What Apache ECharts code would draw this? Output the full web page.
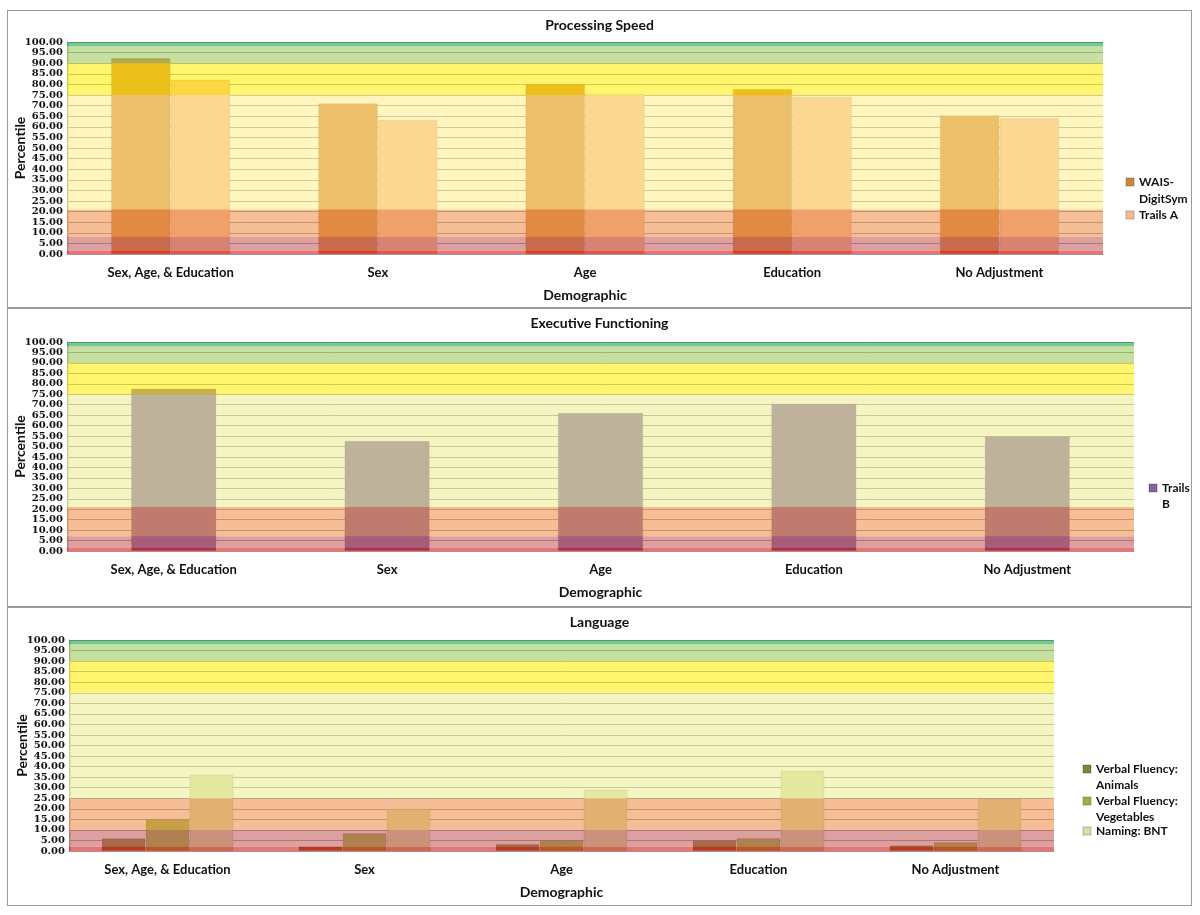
<!DOCTYPE html>
<html>
<head>
<meta charset="utf-8">
<script src="https://cdn.jsdelivr.net/npm/echarts@6/dist/echarts.min.js"></script>
<style>
  html, body { margin: 0; padding: 0; background: #fff; width: 1200px; height: 915px; overflow: hidden; }
  .panel { position: absolute; box-sizing: border-box; border: 1px solid #9a9a9a; background: #fff; }
</style>
</head>
<body>
<div id="p1" class="panel" style="left:7px;top:10px;width:1185px;height:298px;"></div>
<div id="p2" class="panel" style="left:7px;top:308px;width:1185px;height:299px;"></div>
<div id="p3" class="panel" style="left:7px;top:607px;width:1185px;height:299px;"></div>
<script>
// ---- data ----
const categories = ['Sex, Age, & Education', 'Sex', 'Age', 'Education', 'No Adjustment'];

const waisDigitSym = [92.4, 71.1, 80.1, 77.8, 65.5];
const trailsA      = [82.3, 63.3, 75.4, 74.2, 64.0];
const trailsB      = [77.8, 52.8, 66.2, 70.6, 54.9];
const vfAnimals    = [6.0, 2.2, 3.3, 5.2, 2.7];
const vfVegetables = [15.0, 8.5, 5.2, 6.2, 4.3];
const namingBNT    = [36.3, 20.0, 29.2, 38.2, 24.8];

// percentile band boundaries per chart
const bandsSpeed     = [0, 1.5, 8, 21, 75, 90, 98, 100];
const bandsExecutive = [0, 1.5, 7, 21, 75, 90, 98, 100];
const bandsLanguage  = [0, 2, 10, 25, 75, 90, 98, 100];

const yMin = 0, yMax = 100, yStep = 5;

// ---- styles ----
const FONT = 'Lato, "Open Sans", sans-serif';
const NUMFONT = '"DejaVu Serif", "Liberation Serif", serif';
const bandColorsA = [
  'rgba(229,5,5,0.57)', 'rgba(194,88,88,0.57)', 'rgba(237,141,71,0.57)',
  'rgba(255,237,141,0.57)', 'rgba(255,237,0,0.57)', 'rgba(153,201,88,0.57)', 'rgba(18,159,71,0.57)'
];
const bandColorsB = [
  'rgba(229,5,5,0.57)', 'rgba(194,88,88,0.57)', 'rgba(237,141,71,0.57)',
  'rgba(237,237,150,0.57)', 'rgba(255,237,0,0.57)', 'rgba(153,201,88,0.57)', 'rgba(18,159,71,0.57)'
];

function bandSeries(bounds, colors) {
  const data = [];
  for (let i = 0; i < bounds.length - 1; i++) data.push([0, bounds[i], bounds[i + 1]]);
  return {
    type: 'custom', name: '__bands', silent: true, z: 5,
    encode: { x: 0, y: [1, 2] },
    data: data,
    renderItem: function (params, api) {
      const cs = params.coordSys;
      const yTop = api.coord([0, api.value(2)])[1];
      const yBot = api.coord([0, api.value(1)])[1];
      return { type: 'rect', shape: { x: cs.x, y: yTop, width: cs.width, height: yBot - yTop },
               style: { fill: colors[params.dataIndex] } };
    }
  };
}

function barSeries(name, data, color, gap) {
  return {
    type: 'bar', name: name, data: data, z: 2,
    barGap: '0%', barCategoryGap: gap,
    itemStyle: { color: color, borderColor: 'rgba(0,0,0,0.12)', borderWidth: 1 }
  };
}

// iconY: desired vertical centre of the legend icon, in panel coordinates
function legendItem(name, text, left, iconY, lineH) {
  const lines = text.split('\n').length;
  let shown = text, boxH;
  if (lines === 2) { shown = ' \n' + text; boxH = 3 * lineH; } else { boxH = lineH; }
  const top = iconY - boxH / 2;
  return {
    data: [name], orient: 'vertical', left: left, top: top, padding: 0,
    itemWidth: 8, itemHeight: 8, icon: 'rect',
    formatter: function () { return shown; },
    textStyle: { fontFamily: FONT, fontWeight: 'bold', fontSize: 12, color: '#111', lineHeight: lineH },
    selectedMode: false
  };
}

function baseOption(title, grid) {
  grid.containLabel = false;
  grid.outerBoundsMode = 'none';
  return {
    animation: false,
    title: { text: title, left: 'center', top: 2,
             textStyle: { fontFamily: FONT, fontWeight: 'bold', fontSize: 14, color: '#111' } },
    grid: grid,
    xAxis: {
      type: 'category', data: categories,
      name: 'Demographic', nameLocation: 'middle', nameGap: 34, nameMoveOverlap: false,
      nameTextStyle: { fontFamily: FONT, fontWeight: 'bold', fontSize: 14, color: '#111' },
      axisLine: { show: true, lineStyle: { color: '#999' } },
      axisTick: { show: false },
      axisLabel: { fontFamily: FONT, fontWeight: 'bold', fontSize: 13, color: '#111', margin: 12 }
    },
    yAxis: {
      type: 'value', min: yMin, max: yMax, interval: yStep,
      name: 'Percentile', nameLocation: 'middle', nameGap: 40, nameMoveOverlap: false,
      nameTextStyle: { fontFamily: FONT, fontWeight: 'bold', fontSize: 14, color: '#111' },
      axisLine: { show: true, lineStyle: { color: '#999' } },
      axisTick: { show: true, inside: true, length: 4, lineStyle: { color: '#999' } },
      minorTick: { show: true, splitNumber: 5, length: 2, lineStyle: { color: '#aaa' } },
      axisLabel: { fontFamily: NUMFONT, fontWeight: 'bold', fontSize: 10, lineHeight: 10, color: '#111', margin: 4,
                   showMinLabel: true, showMaxLabel: true, hideOverlap: false,
                   formatter: function (v) { return v.toFixed(2); } },
      splitLine: { show: true, lineStyle: { color: '#9c9a94', width: 1 } }
    }
  };
}

// ---- chart 1 ----
const c1 = echarts.init(document.getElementById('p1'), null, { renderer: 'canvas' });
const o1 = baseOption('Processing Speed', { left: 59, top: 31, width: 1036, height: 212 });
o1.legend = [
  legendItem('WAIS-DigitSym', 'WAIS-\nDigitSym', 1117, 171, 17),
  legendItem('Trails A', 'Trails A', 1117, 204, 17)
];
o1.series = [
  barSeries('WAIS-DigitSym', waisDigitSym, '#d3843c', '42.5%'),
  barSeries('Trails A', trailsA, '#f6b996', '42.5%'),
  bandSeries(bandsSpeed, bandColorsA)
];
c1.setOption(o1);

// ---- chart 2 ----
const c2 = echarts.init(document.getElementById('p2'), null, { renderer: 'canvas' });
const o2 = baseOption('Executive Functioning', { left: 59, top: 33, width: 1067, height: 209 });
o2.legend = [ legendItem('Trails B', 'Trails\nB', 1140, 179, 16) ];
o2.series = [
  barSeries('Trails B', trailsB, '#8264a0', '60%'),
  bandSeries(bandsExecutive, bandColorsB)
];
c2.setOption(o2);

// ---- chart 3 ----
const c3 = echarts.init(document.getElementById('p3'), null, { renderer: 'canvas' });
const o3 = baseOption('Language', { left: 61, top: 32, width: 985, height: 211 });
o3.legend = [
  legendItem('Verbal Fluency: Animals', 'Verbal Fluency:\nAnimals', 1074, 161, 16),
  legendItem('Verbal Fluency: Vegetables', 'Verbal Fluency:\nVegetables', 1074, 193, 16),
  legendItem('Naming: BNT', 'Naming: BNT', 1074, 223, 16)
];
o3.series = [
  barSeries('Verbal Fluency: Animals', vfAnimals, '#82823c', '33%'),
  barSeries('Verbal Fluency: Vegetables', vfVegetables, '#96b446', '33%'),
  barSeries('Naming: BNT', namingBNT, '#d2e1aa', '33%'),
  bandSeries(bandsLanguage, bandColorsB)
];
c3.setOption(o3);
</script>
</body>
</html>
